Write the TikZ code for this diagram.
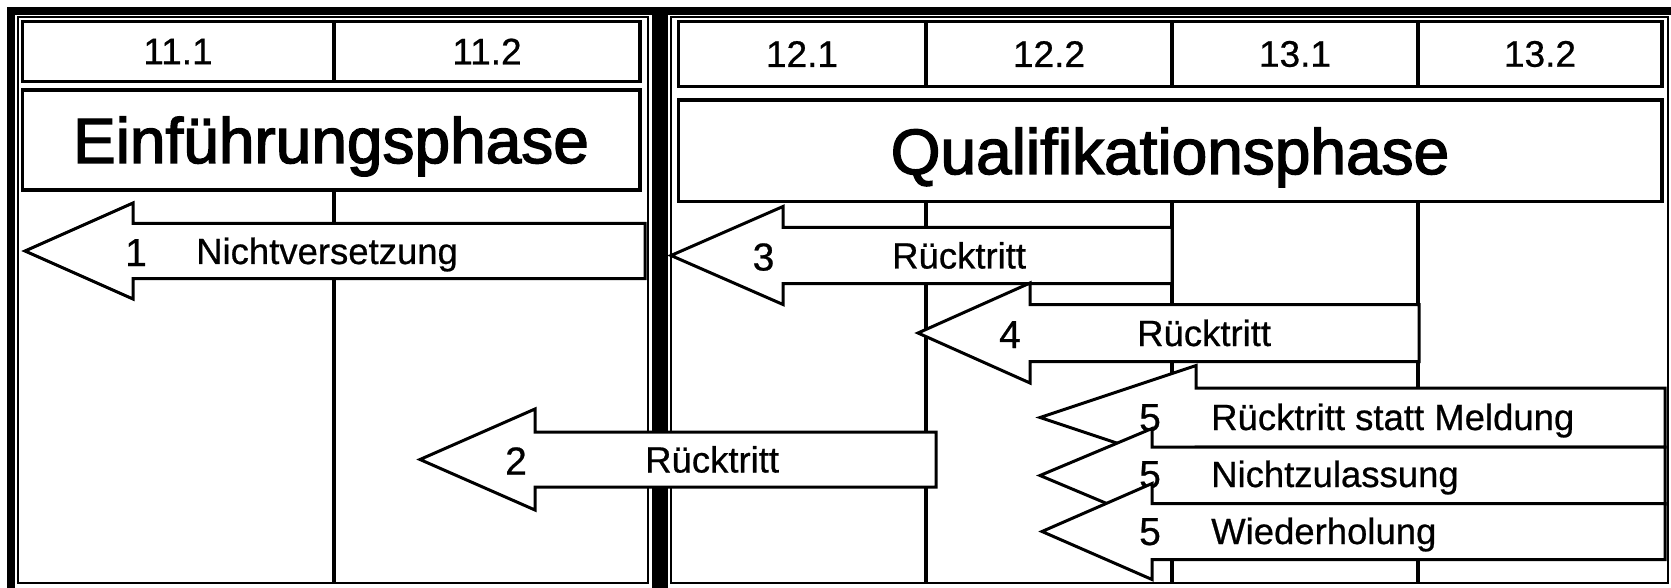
\documentclass[tikz,border=0pt]{standalone}
\usepackage{fontspec}
\setmainfont{Liberation Sans}[FakeBold=0.6]
\newfontfamily\phasefont{Liberation Sans}[FakeBold=2.2]
\newcommand\myblockarrow[6]{% tip x, base x, right x, centre y, head half, body half
  \filldraw[arrowshape] (#1,#4) -- (#2,#4-#5) -- (#2,#4-#6) -- (#3,#4-#6)
    -- (#3,#4+#6) -- (#2,#4+#6) -- (#2,#4+#5) -- cycle;}
\begin{document}
\begin{tikzpicture}[x=1pt,y=-1pt,
  thickframe/.style={line width=8pt},
  thinframe/.style={line width=2pt},
  boxline/.style={line width=3.5pt},
  divline/.style={line width=4.5pt},
  arrowshape/.style={draw=black,fill=white,line width=3pt,line join=miter},
  semlabel/.style={font=\fontsize{37}{40}\selectfont,inner sep=0pt},
  phaselabel/.style={font=\phasefont\fontsize{64}{70}\selectfont,inner sep=0pt,anchor=base},
  numlabel/.style={font=\fontsize{39}{44}\selectfont,inner sep=0pt,anchor=base},
  arrlabel/.style={font=\fontsize{36.5}{40}\selectfont,inner sep=0pt,anchor=base west},
]
\useasboundingbox (0,0) rectangle (1671,588);
\fill[white] (0,0) rectangle (1671,588);

% panel frames (thick-thin)
\draw[thickframe] (11,600) -- (11,11) -- (655.5,11) -- (655.5,600);
\draw[thinframe] (18,583) rectangle (648,17.5);
\draw[thickframe] (663.5,600) -- (663.5,11) -- (1676,11);
\draw[thinframe] (670.5,583) rectangle (1667.5,17.5);

% left header
\draw[boxline] (22.5,21.5) rectangle (640,81.5);
\draw[boxline] (334,21.5) -- (334,81.5);
\draw[boxline] (22.5,90) rectangle (640,190);
\draw[divline] (334,190) -- (334,583);

% right header
\draw[boxline] (678.5,21.5) rectangle (1662,86.5);
\foreach \xx in {926,1172,1418} \draw[boxline] (\xx,21.5) -- (\xx,86.5);
\draw[boxline] (678.5,100) rectangle (1662,201.5);
\foreach \xx in {926,1172,1418} \draw[divline] (\xx,201.5) -- (\xx,583);

\node[semlabel] (s111) at (178,51.5) {11.1};
\node[semlabel] (s112) at (487,51.5) {11.2};
\node[semlabel] (s121) at (802,54) {12.1};
\node[semlabel] (s122) at (1049,54) {12.2};
\node[semlabel] (s131) at (1295,54) {13.1};
\node[semlabel] (s132) at (1540,54) {13.2};
\node[phaselabel] (ephase) at (331,163) {Einführungsphase};
\node[phaselabel] (qphase) at (1170,174) {Qualifikationsphase};

% arrow 1
\myblockarrow{25}{133}{645}{251}{48}{27.5}
\node[numlabel] (n1) at (136,266) {1};
\node[arrlabel] (t1) at (196,264) {Nichtversetzung};
% arrow 2
\myblockarrow{420}{535}{936}{459.5}{50.5}{27.5}
\node[numlabel] (n2) at (516,474.5) {2};
\node[arrlabel] (t2) at (645,472.5) {Rücktritt};
% arrow 3
\myblockarrow{671}{783}{1172}{255.5}{49}{28}
\node[numlabel] (n3) at (763.5,270.5) {3};
\node[arrlabel] (t3) at (892,268.5) {Rücktritt};
% arrow 4
\myblockarrow{918}{1030}{1419}{333}{50}{28.5}
\node[numlabel] (n4) at (1010,348) {4};
\node[arrlabel] (t4) at (1137,346) {Rücktritt};
% arrows 5
\myblockarrow{1040}{1196}{1665}{417.5}{52}{29.5}
\node[numlabel] (n5a) at (1150,431) {5};
\node[arrlabel] (t5a) at (1211,430) {Rücktritt statt Meldung};
\myblockarrow{1040}{1152}{1665}{475.5}{47}{28.5}
\node[numlabel] (n5b) at (1150,488) {5};
\node[arrlabel] (t5b) at (1211,487) {Nichtzulassung};
\myblockarrow{1042}{1152}{1665}{531.5}{48}{28}
\node[numlabel] (n5c) at (1150,545) {5};
\node[arrlabel] (t5c) at (1211,544) {Wiederholung};
\end{tikzpicture}
\end{document}
